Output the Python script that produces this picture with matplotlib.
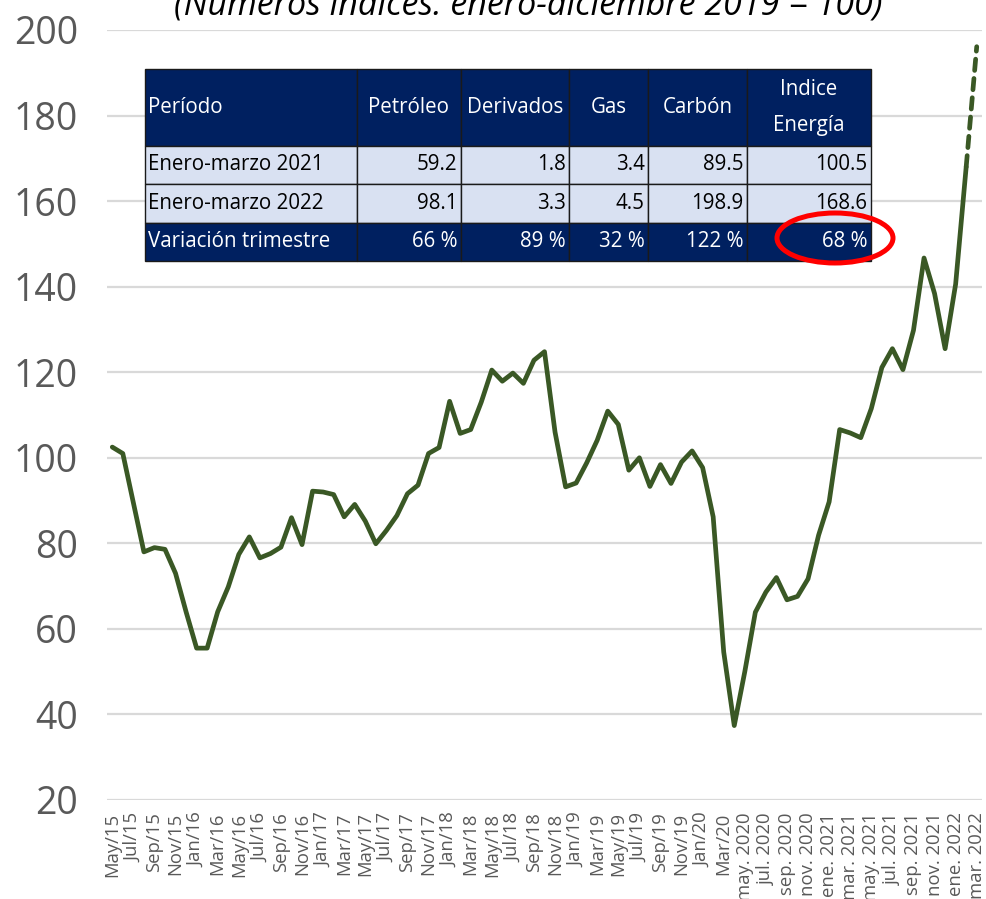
import matplotlib
matplotlib.use("Agg")
import matplotlib.pyplot as plt
from matplotlib.patches import Ellipse

plt.rcParams['font.family'] = ['Open Sans', 'DejaVu Sans']

# ---------------- data ----------------
energy_index = [
    102.5, 101.0, 89.5, 78.0, 79.0, 78.6, 73.0, 64.0, 55.5, 55.5,
    64.0, 69.8, 77.4, 81.5, 76.6, 77.6, 79.1, 86.0, 79.7, 92.2,
    92.0, 91.4, 86.2, 89.1, 85.2, 79.9, 83.0, 86.5, 91.6, 93.6,
    101.0, 102.4, 113.2, 105.7, 106.6, 113.0, 120.5, 117.9, 119.8, 117.4,
    122.8, 124.8, 106.0, 93.2, 94.1, 98.8, 104.1, 110.9, 107.8, 97.1,
    100.0, 93.3, 98.4, 94.0, 99.0, 101.6, 97.7, 86.2, 54.6, 37.4,
    50.0, 63.9, 68.6, 72.0, 66.8, 67.6, 71.7, 81.9, 89.7, 106.6,
    105.8, 104.7, 111.5, 121.1, 125.5, 120.6, 129.8, 146.7, 138.4, 125.5,
    140.6, 168.0, 196.1,
]
n_dashed = 2  # last segment (estimate) drawn dashed

x_labels = [
    "May/15", "Jul/15", "Sep/15", "Nov/15", "Jan/16", "Mar/16", "May/16", "Jul/16",
    "Sep/16", "Nov/16", "Jan/17", "Mar/17", "May/17", "Jul/17", "Sep/17", "Nov/17",
    "Jan/18", "Mar/18", "May/18", "Jul/18", "Sep/18", "Nov/18", "Jan/19", "Mar/19",
    "May/19", "Jul/19", "Sep/19", "Nov/19", "Jan/20", "Mar/20",
    "may. 2020", "jul. 2020", "sep. 2020", "nov. 2020", "ene. 2021", "mar. 2021",
    "may. 2021", "jul. 2021", "sep. 2021", "nov. 2021", "ene. 2022", "mar. 2022",
]
y_ticks = [20, 40, 60, 80, 100, 120, 140, 160, 180, 200]

title = "(Números índices: enero-diciembre 2019 = 100)"

table_header = ["Período", "Petróleo", "Derivados", "Gas", "Carbón", "Indice\nEnergía"]
row_2021 = ["Enero-marzo 2021", "59.2", "1.8", "3.4", "89.5", "100.5"]
row_2022 = ["Enero-marzo 2022", "98.1", "3.3", "4.5", "198.9", "168.6"]
row_var = ["Variación trimestre", "66 %", "89 %", "32 %", "122 %", "68 %"]

# ---------------- figure ----------------
W, H = 987, 899
fig = plt.figure(figsize=(W / 100, H / 100), dpi=100)
fig.patch.set_facecolor("white")

def fx(px):
    return px / W

def fy(py):
    return 1 - py / H

ax = fig.add_axes([fx(107), fy(800), fx(982) - fx(107), fy(30) - fy(800)])

line_color = "#3A5825"
n = len(energy_index)
xs = list(range(n))
solid_end = n - n_dashed + 1
ax.plot(xs[:solid_end], energy_index[:solid_end], color=line_color, lw=3.4,
        solid_joinstyle="round", solid_capstyle="round", zorder=3)
ax.plot(xs[solid_end - 1:], energy_index[solid_end - 1:], color=line_color, lw=3.4,
        linestyle=(0, (2.4, 1.7)), dash_capstyle="round", zorder=3)

ax.set_xlim(-0.5, n - 0.5)
ax.set_ylim(20, 200)
ax.set_yticks(y_ticks)
ax.set_xticks(xs[::2])
ax.set_xticklabels(x_labels, rotation=90, fontsize=13.3, color="#595959")
ax.tick_params(axis="y", labelsize=27, colors="#595959", length=0, pad=21)
ax.tick_params(axis="x", length=0, pad=9)
for t in ax.get_xticklabels():
    t.set_va("top")
ax.yaxis.grid(True, color="#D9D9D9", lw=1.6)
ax.set_axisbelow(True)
for s in ax.spines.values():
    s.set_visible(False)

# title (partly clipped at top, as in the reference)
fig.text(fx(528), fy(14), title, ha="center", va="baseline", fontsize=24.5,
         style="italic", color="black")

# ---------------- table ----------------
tax = fig.add_axes([fx(145), fy(261), fx(871) - fx(145), fy(69) - fy(261)])
tax.axis("off")
col_px = [212, 104, 108, 79, 99, 124]
tot = sum(col_px)
rows = [table_header, row_2021, row_2022, row_var]
tbl = tax.table(cellText=rows, colWidths=[c / tot for c in col_px],
                bbox=[0, 0, 1, 1], cellLoc="center")
tbl.auto_set_font_size(False)
tbl.set_fontsize(14.8)
navy = "#002060"
light = "#D9E1F2"
for (r, c), cell in tbl.get_celld().items():
    cell.set_edgecolor("#1A1A1A")
    cell.set_linewidth(1.0)
    cell.PAD = 3.5 / col_px[c]
    txt = cell.get_text()
    txt.set_fontsize(14.8)
    if r == 0:
        cell.set_height(2.0)
        cell.set_facecolor(navy)
        txt.set_color("white")
        txt.set_ha("left" if c == 0 else "center")
        if c == len(col_px) - 1:
            txt.set_linespacing(1.95)
    else:
        cell.set_height(1.0)
        if r == 3:
            cell.set_facecolor(navy)
            txt.set_color("white")
        else:
            cell.set_facecolor(light)
            txt.set_color("black")
        txt.set_ha("left" if c == 0 else "right")

# red ellipse highlighting the energy index variation
ell = Ellipse((fx(835), fy(238)), fx(116), 50 / H, transform=fig.transFigure,
              fill=False, edgecolor="#FF0000", lw=3.6, zorder=10)
fig.patches.append(ell)

fig.savefig("out.png", dpi=100, facecolor="white")
